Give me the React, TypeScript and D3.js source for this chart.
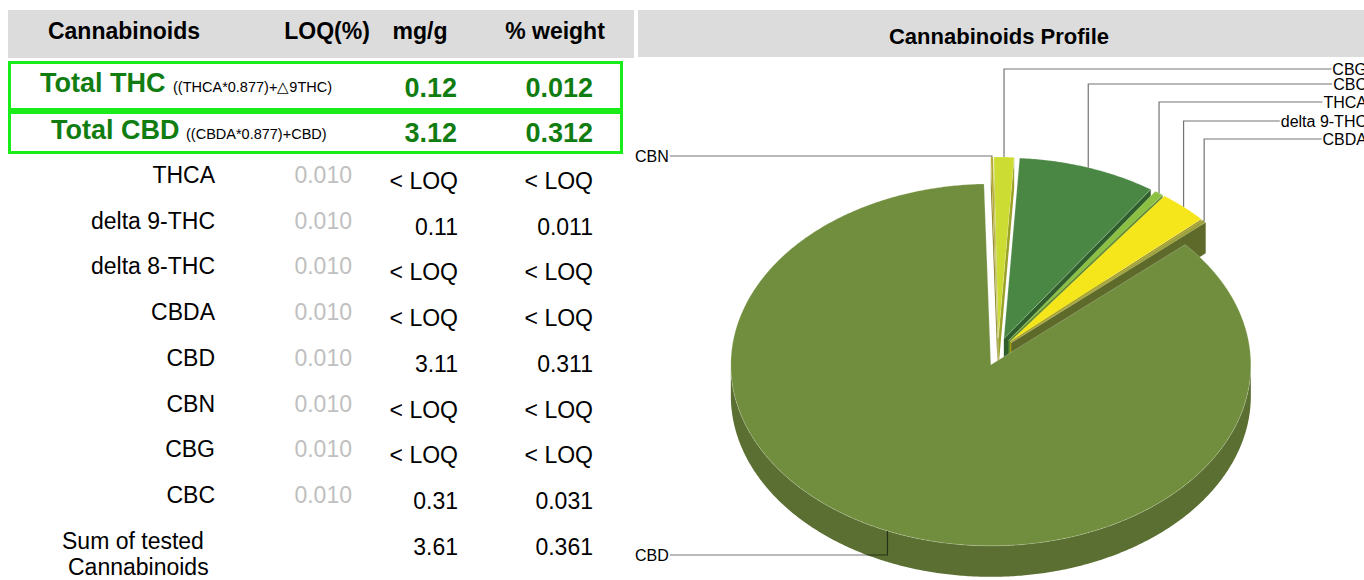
import React from 'react';
import * as d3 from 'd3';

// ---------- data ----------
const headerLabels = ['Cannabinoids', 'LOQ(%)', 'mg/g', '% weight'];
const totalNames = ['Total THC', 'Total CBD'];
const totalFormulas = ['((THCA*0.877)+△9THC)', '((CBDA*0.877)+CBD)'];
const totalMg = ['0.12', '3.12'];
const totalPct = ['0.012', '0.312'];
const rowNames = ['THCA', 'delta 9-THC', 'delta 8-THC', 'CBDA', 'CBD', 'CBN', 'CBG', 'CBC'];
const rowLoq = ['0.010', '0.010', '0.010', '0.010', '0.010', '0.010', '0.010', '0.010'];
const rowMg = ['< LOQ', '0.11', '< LOQ', '< LOQ', '3.11', '< LOQ', '< LOQ', '0.31'];
const rowPct = ['< LOQ', '0.011', '< LOQ', '< LOQ', '0.311', '< LOQ', '< LOQ', '0.031'];
const sumLabel = ['Sum of tested', 'Cannabinoids'];
const sumMg = '3.61';
const sumPct = '0.361';
const chartTitle = 'Cannabinoids Profile';
const pieLabels = ['CBN', 'CBG', 'CBC', 'THCA', 'delta 9-THC', 'CBDA', 'CBD'];
const pieValues = [0.005, 0.045, 0.31, 0.02, 0.11, 0.01, 3.11];

// ---------- styles / layout ----------
const FONT = '"Liberation Sans", Arial, Helvetica, sans-serif';
const pieTop = ['#b3a727', '#cddc33', '#4a8744', '#8cc043', '#f5e61c', '#9ca13c', '#718e3e'];
const pieSide = ['#8c8420', '#9aa125', '#2f5e2c', '#5f8a2a', '#a39a1a', '#5e6a2a', '#5a6f31'];
const labelSide = ['left', 'right', 'right', 'right', 'right', 'right', 'left'];
const labelY = [156, 69, 84, 102, 121, 139, 555];

const W = 1364;
const H = 580;
const CX = 998;
const CY = 352;
const RX = 260;
const RY = 181;
const DEPTH = 31;
const EX = 18;
const EY = 14;
const deg = Math.PI / 180;
const LABEL_SIZE = 16;

const colX = { name: 215, loq: 352, mg: 458, pct: 593 };
const rowY0 = 183;
const rowStep = 45.7;

function measure(text: string, size: number) {
  try {
    const c = document.createElement('canvas').getContext('2d');
    if (c) {
      c.font = `${size}px "Liberation Sans", Arial, sans-serif`;
      return c.measureText(text).width;
    }
  } catch (e) {}
  return text.length * size * 0.55;
}

function PieChart() {
  const pie = d3
    .pie<number>()
    .sort(null)
    .value((d) => d)
    .startAngle(-1.5 * deg)
    .endAngle(358.5 * deg);
  const arcs = pie(pieValues);

  const slices = arcs.map((a, i) => {
    const mid = (a.startAngle + a.endAngle) / 2;
    const ox = CX + EX * Math.sin(mid);
    const oy = CY - EY * Math.cos(mid);
    const pt = (t: number, dz = 0): [number, number] => [ox + RX * Math.sin(t), oy - RY * Math.cos(t) + dz];
    const arcPts = (t0: number, t1: number, dz = 0) => {
      const n = Math.max(2, Math.ceil(Math.abs(t1 - t0) / (0.5 * deg)));
      return d3.range(n + 1).map((k) => pt(t0 + ((t1 - t0) * k) / n, dz));
    };
    const top = d3.path();
    top.moveTo(ox, oy);
    arcPts(a.startAngle, a.endAngle).forEach(([x, y]) => top.lineTo(x, y));
    top.closePath();
    const walls: string[] = [];
    const radial = (t: number) => {
      const p = d3.path();
      const [x1, y1] = pt(t);
      p.moveTo(ox, oy);
      p.lineTo(x1, y1);
      p.lineTo(x1, y1 + DEPTH);
      p.lineTo(ox, oy + DEPTH);
      p.closePath();
      return p.toString();
    };
    if (Math.sin(a.startAngle) < 0) walls.push(radial(a.startAngle));
    if (Math.sin(a.endAngle) > 0) walls.push(radial(a.endAngle));
    const lo = Math.max(a.startAngle, Math.PI / 2);
    const hi = Math.min(a.endAngle, (3 * Math.PI) / 2);
    if (hi > lo) {
      const p = d3.path();
      const up = arcPts(lo, hi);
      const dn = arcPts(lo, hi, DEPTH).reverse();
      up.forEach(([x, y], k) => (k === 0 ? p.moveTo(x, y) : p.lineTo(x, y)));
      dn.forEach(([x, y]) => p.lineTo(x, y));
      p.closePath();
      walls.push(p.toString());
    }
    const outer = pt(mid);
    return { i, top: top.toString(), walls, outer };
  });

  const labels = slices.map((s) => {
    const i = s.i;
    const ly = labelY[i];
    const txt = pieLabels[i];
    const w = measure(txt, LABEL_SIZE);
    const [ox, oy] = s.outer;
    let pts: [number, number][];
    let tx: number;
    let anchor: 'start' | 'end';
    if (labelSide[i] === 'left') {
      tx = 635;
      anchor = 'start';
      pts = [
        [tx + w + 1, ly],
        [ox, ly],
        [ox, oy],
      ];
    } else {
      tx = 1367;
      anchor = 'end';
      pts = [
        [ox, oy],
        [ox, ly],
        [tx - w - 1, ly],
      ];
    }
    return { i, txt, tx, ly, anchor, line: d3.line()(pts) || '' };
  });

  return (
    <g>
      <rect x={638} y={10} width={W - 638} height={47} fill="#dcdcdc" />
      <text x={999} y={44} textAnchor="middle" fontFamily={FONT} fontWeight="bold" fontSize={22} fill="#000">
        {chartTitle}
      </text>
      {slices.map((s) =>
        s.walls.map((d, k) => <path key={`w${s.i}-${k}`} d={d} fill={pieSide[s.i]} />)
      )}
      {slices.map((s) => (
        <path key={`t${s.i}`} d={s.top} fill={pieTop[s.i]} stroke="#ffffff" strokeOpacity={0.35} strokeWidth={0.6} />
      ))}
      {labels.map((l) => (
        <g key={`l${l.i}`}>
          <path d={l.line} fill="none" stroke="#000" strokeOpacity={0.55} strokeWidth={1.2} />
          <text x={l.tx} y={l.ly + 5.5} textAnchor={l.anchor} fontFamily={FONT} fontSize={LABEL_SIZE} fill="#000">
            {l.txt}
          </text>
        </g>
      ))}
    </g>
  );
}

function Table() {
  const headerX = [124, 327, 420, 555];
  const green = '#117d11';
  const border = '#19ec19';
  return (
    <g fontFamily={FONT}>
      <rect x={8} y={10} width={626} height={48} fill="#dcdcdc" />
      {headerLabels.map((h, i) => (
        <text key={h} x={headerX[i]} y={39} textAnchor="middle" fontWeight="bold" fontSize={23} fill="#000">
          {h}
        </text>
      ))}
      <rect x={9.5} y={62.5} width={612} height={47} fill="none" stroke={border} strokeWidth={3} />
      <rect x={9.5} y={112.5} width={612} height={40} fill="none" stroke={border} strokeWidth={3} />
      {totalNames.map((n, i) => {
        const y = i === 0 ? 92 : 139;
        const nx = i === 0 ? 40 : 51;
        const fx = i === 0 ? 173 : 186;
        const vy = i === 0 ? 97 : 142;
        return (
          <g key={n}>
            <text x={nx} y={y} fontWeight="bold" fontSize={27} fill={green}>
              {n}
            </text>
            <text x={fx} y={y} fontSize={14.5} fill="#000">
              {totalFormulas[i]}
            </text>
            <text x={457} y={vy} textAnchor="end" fontWeight="bold" fontSize={27} fill={green}>
              {totalMg[i]}
            </text>
            <text x={593} y={vy} textAnchor="end" fontWeight="bold" fontSize={27} fill={green}>
              {totalPct[i]}
            </text>
          </g>
        );
      })}
      {rowNames.map((n, i) => {
        const y = rowY0 + i * rowStep;
        return (
          <g key={n}>
            <text x={colX.name} y={y} textAnchor="end" fontSize={23} fill="#000">
              {n}
            </text>
            <text x={colX.loq} y={y} textAnchor="end" fontSize={23} fill="#c0c0c0">
              {rowLoq[i]}
            </text>
            <text x={colX.mg} y={y + 6} textAnchor="end" fontSize={23} fill="#000">
              {rowMg[i]}
            </text>
            <text x={colX.pct} y={y + 6} textAnchor="end" fontSize={23} fill="#000">
              {rowPct[i]}
            </text>
          </g>
        );
      })}
      {(() => {
        const y = rowY0 + rowNames.length * rowStep;
        return (
          <g>
            <text x={62} y={y} fontSize={23} fill="#000">
              {sumLabel[0]}
            </text>
            <text x={68} y={y + 26.5} fontSize={23} fill="#000">
              {sumLabel[1]}
            </text>
            <text x={colX.mg} y={y + 6} textAnchor="end" fontSize={23} fill="#000">
              {sumMg}
            </text>
            <text x={colX.pct} y={y + 6} textAnchor="end" fontSize={23} fill="#000">
              {sumPct}
            </text>
          </g>
        );
      })()}
    </g>
  );
}

export default function App() {
  return (
    <svg
      width={W}
      height={H}
      viewBox={`0 0 ${W} ${H}`}
      style={{ position: 'absolute', left: 0, top: 0, background: '#fff', display: 'block' }}
    >
      <rect x={0} y={0} width={W} height={H} fill="#ffffff" />
      <Table />
      <PieChart />
    </svg>
  );
}
